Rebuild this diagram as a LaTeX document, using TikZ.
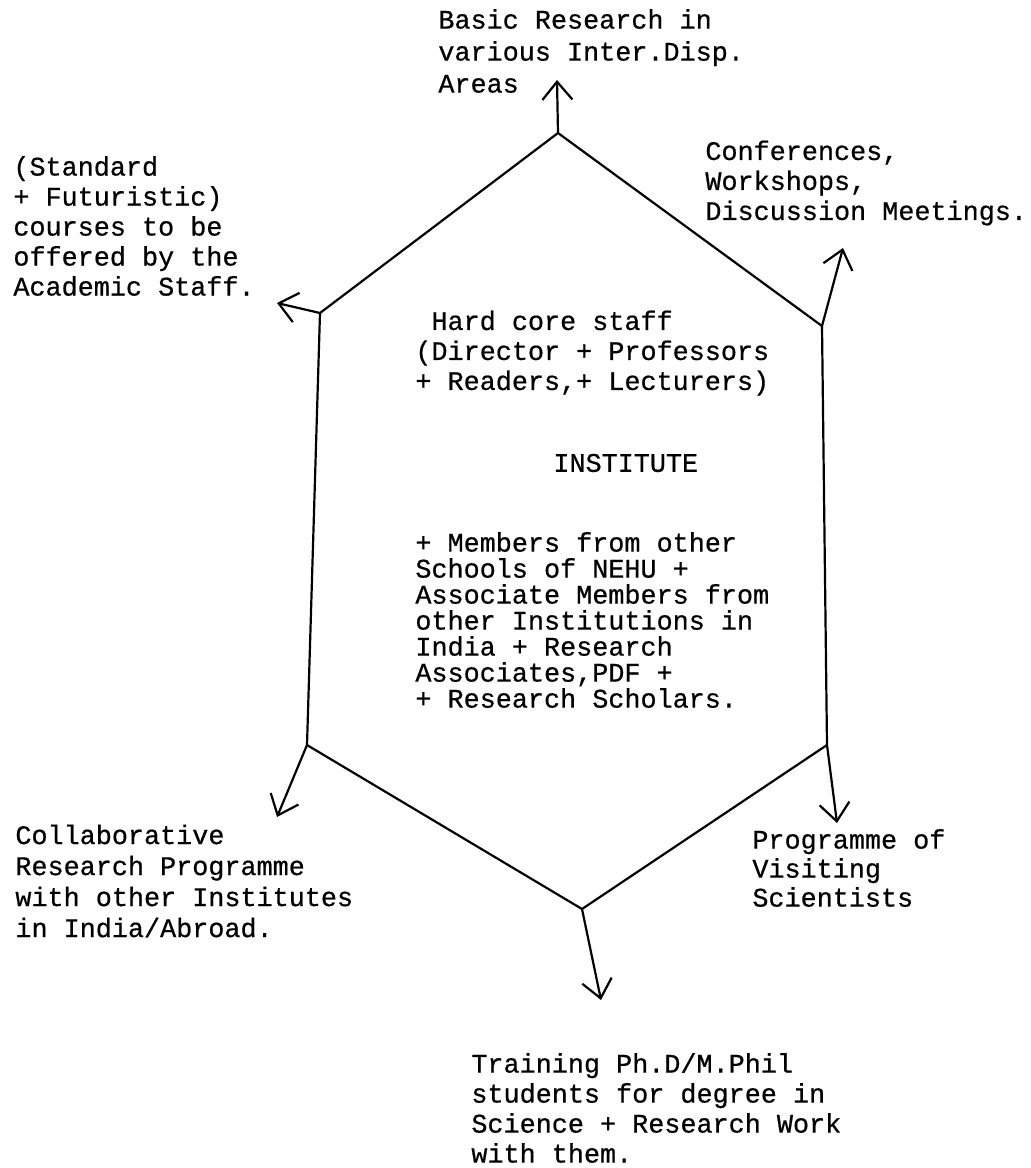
\documentclass[tikz,border=0pt]{standalone}
\usepackage{fontspec}
\setmonofont{Liberation Mono}[FakeBold=0.6]
\usetikzlibrary{arrows.meta}

\newcommand{\typed}[1]{\ttfamily\fontsize{13.4pt}{#1pt}\selectfont}

\tikzset{
  note/.style={font=\typed{15}, align=left, inner sep=0pt, anchor=west},
  hexline/.style={line width=1.1pt, line join=round},
  arr/.style={line width=1.1pt, -{Straight Barb[length=9pt,width=15pt]}}
}

\begin{document}
\begin{tikzpicture}[x=0.5pt,y=-0.5pt]
        \useasboundingbox (0,0) rectangle (1031,1168);

        % Corners of the hexagon
        \coordinate (top) at (558,133);
        \coordinate (ul) at (320,313);
        \coordinate (ur) at (822,326);
        \coordinate (ll) at (307,745);
        \coordinate (lr) at (827,745);
        \coordinate (bot) at (582,909);

        % Free ends of the arrows
        \coordinate (topend) at (557,80);
        \coordinate (ulend) at (277,303);
        \coordinate (urend) at (843,248);
        \coordinate (llend) at (277,817);
        \coordinate (lrend) at (837,823);
        \coordinate (botend) at (601,1000);

        % Drawing the hexagon
        \draw[hexline] (top) -- (ur) -- (lr) -- (bot) -- (ll) -- (ul) -- cycle;

        % Arrows going out
        \draw[arr] (top) -- (topend);
        \draw[arr] (ul) -- (ulend);
        \draw[arr] (ur) -- (urend);
        \draw[arr] (ll) -- (llend);
        \draw[arr] (lr) -- (lrend);
        \draw[arr] (bot) -- (botend);

        % Texts round the hexagon
        \node[note, font=\typed{16}] (basic) at (438,51) {Basic Research in\\various Inter.Disp.\\Areas};
        \node[note] (courses) at (13,226) {(Standard\\+ Futuristic)\\courses to be\\offered by the\\Academic Staff.};
        \node[note] (conf) at (705,183) {Conferences,\\Workshops,\\Discussion Meetings.};
        \node[note, font=\typed{15.5}] (collab) at (15,881) {Collaborative\\Research Programme\\with other Institutes\\in India/Abroad.};
        \node[note, font=\typed{14.5}] (visit) at (752,868) {Programme of\\Visiting\\Scientists};
        \node[note] (training) at (471,1108) {Training Ph.D/M.Phil\\students for degree in\\Science + Research Work\\with them.};

        % Texts inside
        \node[note] (core) at (415,353) {\phantom{(}Hard core staff\\(Director + Professors\\+ Readers,+ Lecturers)};
        \node[note] (inst) at (553,463) {INSTITUTE};
        \node[note, font=\typed{13}] (members) at (415,620) {+ Members from other\\Schools of NEHU +\\Associate Members from\\other Institutions in\\India + Research\\Associates,PDF +\\+ Research Scholars.};

\end{tikzpicture}
\end{document}
